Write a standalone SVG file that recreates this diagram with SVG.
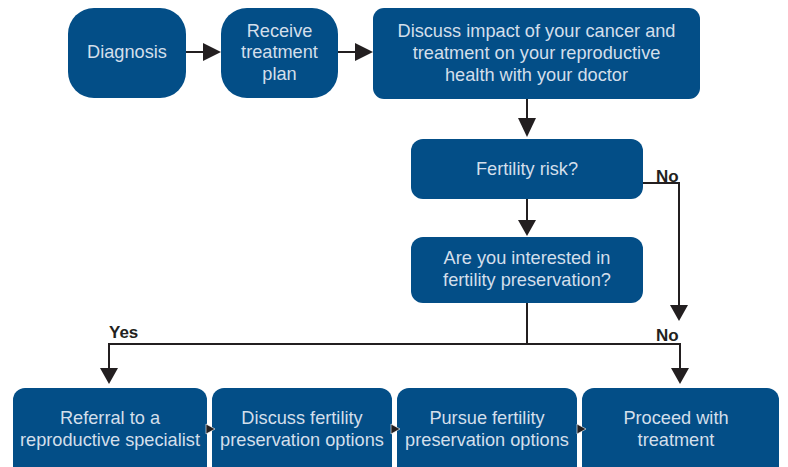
<svg xmlns="http://www.w3.org/2000/svg" width="788" height="467" viewBox="0 0 788 467">
<defs>
<style>
.box{fill:#034e87;}
.t{font-family:"Liberation Sans",Arial,sans-serif;font-size:18.2px;fill:#d3dfeb;text-anchor:middle;}
.lbl{font-family:"Liberation Sans",Arial,sans-serif;font-size:17px;font-weight:bold;fill:#231f20;}
.ln{stroke:#231f20;stroke-width:2;fill:none;}
.ah{fill:#231f20;}
.sah{fill:#231f20;stroke:#ffffff;stroke-width:0.6;}
</style>
</defs>
<rect width="788" height="467" fill="#ffffff"/>
<g id="diagnosis">
<rect class="box" x="68" y="8" width="118" height="90" rx="26"/>
<text class="t" x="127" y="58">Diagnosis</text>
</g>
<g id="receive">
<rect class="box" x="221" y="8" width="117" height="90" rx="26"/>
<text class="t" x="279.5" y="37">Receive</text>
<text class="t" x="279.5" y="58">treatment</text>
<text class="t" x="279.5" y="80">plan</text>
</g>
<g id="discuss-impact">
<rect class="box" x="373" y="8" width="327" height="91" rx="11"/>
<text class="t" x="536.5" y="37">Discuss impact of your cancer and</text>
<text class="t" x="536.5" y="59">treatment on your reproductive</text>
<text class="t" x="536.5" y="81">health with your doctor</text>
</g>
<g id="fertility-risk">
<rect class="box" x="411" y="139" width="232" height="60" rx="12"/>
<text class="t" x="527" y="175">Fertility risk?</text>
</g>
<g id="interested">
<rect class="box" x="411" y="237" width="232" height="66" rx="12"/>
<text class="t" x="527" y="264">Are you interested in</text>
<text class="t" x="527" y="286">fertility preservation?</text>
</g>
<g id="referral">
<rect class="box" x="13" y="388" width="194" height="100" rx="12"/>
<text class="t" x="110" y="424">Referral to a</text>
<text class="t" x="110" y="446">reproductive specialist</text>
</g>
<g id="discuss-options">
<rect class="box" x="212" y="388" width="180" height="100" rx="12"/>
<text class="t" x="302" y="424">Discuss fertility</text>
<text class="t" x="302" y="446">preservation options</text>
</g>
<g id="pursue-options">
<rect class="box" x="397" y="388" width="180" height="100" rx="12"/>
<text class="t" x="487" y="424">Pursue fertility</text>
<text class="t" x="487" y="446">preservation options</text>
</g>
<g id="proceed">
<rect class="box" x="582" y="388" width="197" height="100" rx="12"/>
<text class="t" x="676" y="424">Proceed with</text>
<text class="t" x="676" y="446">treatment</text>
</g>
<g id="connectors">
<line class="ln" x1="186" y1="52" x2="205" y2="52"/>
<polygon class="ah" points="203,43 221,52 203,61"/>
<line class="ln" x1="338" y1="52" x2="357" y2="52"/>
<polygon class="ah" points="355,43 373,52 355,61"/>
<line class="ln" x1="527" y1="99" x2="527" y2="120"/>
<polygon class="ah" points="518,118 527,137 536,118"/>
<line class="ln" x1="527" y1="199" x2="527" y2="222"/>
<polygon class="ah" points="518,220 527,236 536,220"/>
<polyline class="ln" points="643,183 679,183 679,307"/>
<polygon class="ah" points="670,305 679,321 688,305"/>
<line class="ln" x1="527" y1="303" x2="527" y2="344"/>
<polyline class="ln" points="109,370 109,344 680,344 680,370"/>
<polygon class="ah" points="100,368 109,384 118,368"/>
<polygon class="ah" points="671,368 680,384 689,368"/>
<polygon class="sah" points="206,424 215,429 206,434"/>
<polygon class="sah" points="391,424 400,429 391,434"/>
<polygon class="sah" points="577,424 586,429 577,434"/>
<text class="lbl" x="656" y="182">No</text>
<text class="lbl" x="109" y="338">Yes</text>
<text class="lbl" x="656" y="341">No</text>
</g>
</svg>
